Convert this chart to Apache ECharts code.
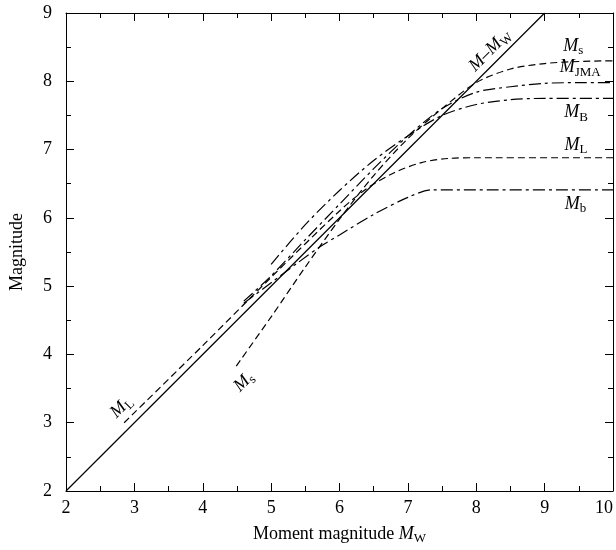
<!DOCTYPE html>
<html>
<head>
<meta charset="utf-8">
<script src="https://cdn.jsdelivr.net/npm/echarts@6/dist/echarts.min.js"></script>
<style>
  html, body { margin: 0; padding: 0; background: #fff; }
  #main { width: 616px; height: 550px; }
</style>
</head>
<body>
<div id="main"></div>
<script>
// axis ranges
const xRange = [2, 10];
const yRange = [2, 9];

// curves, [Mw, M]
const mwLine = [[2, 2], [9, 9]];
const msData = [[4.49, 3.83], [5, 4.55], [5.5, 5.28], [6, 5.98], [6.5, 6.62], [7, 7.16], [7.5, 7.6], [8, 7.98], [8.5, 8.18], [9, 8.26], [9.5, 8.29], [10, 8.3]];
const mjmaData = [[4.6, 4.78], [5, 5.15], [5.5, 5.68], [6, 6.2], [6.5, 6.72], [7, 7.2], [7.5, 7.6], [8, 7.84], [8.5, 7.92], [9, 7.97], [9.5, 7.98], [10, 7.98]];
const mBData = [[5, 5.32], [5.5, 5.9], [6, 6.4], [6.5, 6.84], [7, 7.2], [7.5, 7.5], [8, 7.66], [8.5, 7.73], [9, 7.75], [10, 7.75]];
const mlData = [[2.85, 3.0], [4, 4.13], [5, 5.13], [6, 6.1], [6.4, 6.43], [6.8, 6.66], [7.2, 6.81], [7.6, 6.87], [8, 6.88], [10, 6.88]];
const mbData = [[4.6, 4.75], [5, 5.05], [5.4, 5.35], [5.72, 5.58], [6, 5.75], [6.5, 6.05], [7, 6.3], [7.35, 6.41], [8, 6.41], [10, 6.41]];

// curve labels: [text, x, y, rotation in degrees]
const curveLabels = [
  ['{i|M}{n|–}{i|M}{s|W}', 8.2, 8.45, 45],
  ['{i|M}{s|s}', 9.42, 8.51, 0],
  ['{i|M}{s|JMA}', 9.52, 8.2, 0],
  ['{i|M}{s|B}', 9.46, 7.54, 0],
  ['{i|M}{s|L}', 9.46, 7.06, 0],
  ['{i|M}{s|b}', 9.45, 6.2, 0],
  ['{i|M}{s|L}', 2.81, 3.23, 45],
  ['{i|M}{s|s}', 4.6, 3.6, 45]
];

const FONT = '"Liberation Serif", "DejaVu Serif", serif';
const dashed = [7, 4];
const dashDot = [12, 4, 3, 4];

const richText = {
  i: { fontFamily: FONT, fontStyle: 'italic', fontSize: 18, color: '#000' },
  n: { fontFamily: FONT, fontSize: 18, color: '#000' },
  s: { fontFamily: FONT, fontSize: 13, color: '#000', padding: [9, 0, 0, 0] }
};

const chart = echarts.init(document.getElementById('main'));

function axisCommon(show) {
  return {
    type: 'value',
    axisLine: { show: true, onZero: false, lineStyle: { color: '#000', width: 1 } },
    axisTick: { show: true, inside: true, length: 8, lineStyle: { color: '#000' } },
    minorTick: { show: true, splitNumber: 2, length: 5, lineStyle: { color: '#000' } },
    splitLine: { show: false },
    axisLabel: { show: show, color: '#000', fontFamily: FONT, fontSize: 18 }
  };
}

function line(name, data, type, width) {
  return {
    name: name,
    type: 'line',
    data: data,
    showSymbol: false,
    smooth: 0.3,
    silent: true,
    animation: false,
    lineStyle: { color: '#000', width: width, type: type }
  };
}

const xb = axisCommon(true);
Object.assign(xb, {
  min: xRange[0], max: xRange[1], interval: 1, position: 'bottom',
  name: 'Moment magnitude {i|M}{s|W}', nameLocation: 'middle', nameGap: 32,
  nameTextStyle: { fontFamily: FONT, fontSize: 18, color: '#000', rich: richText }
});
xb.axisLabel.margin = 8;
xb.axisLabel.alignMaxLabel = 'right';
const xt = axisCommon(false);
Object.assign(xt, { min: xRange[0], max: xRange[1], interval: 1, position: 'top' });

const yl = axisCommon(true);
Object.assign(yl, {
  min: yRange[0], max: yRange[1], interval: 1, position: 'left',
  name: 'Magnitude', nameLocation: 'middle', nameGap: 40,
  nameTextStyle: { fontFamily: FONT, fontSize: 18, color: '#000' }
});
yl.axisLabel.margin = 14;
const yr = axisCommon(false);
Object.assign(yr, { min: yRange[0], max: yRange[1], interval: 1, position: 'right' });

chart.setOption({
  animation: false,
  backgroundColor: '#fff',
  grid: { left: 64, right: 2, top: 13, bottom: 54 },
  xAxis: [xb, xt],
  yAxis: [yl, yr],
  series: [
    line('Mw', mwLine, 'solid', 1.2),
    line('Ms', msData, dashed, 1.2),
    line('MJMA', mjmaData, dashDot, 1.2),
    line('MB', mBData, dashDot, 1.2),
    line('ML', mlData, dashed, 1.2),
    line('Mb', mbData, dashDot, 1.2)
  ]
});

const graphics = curveLabels.map(function (l) {
  const p = chart.convertToPixel({ gridIndex: 0 }, [l[1], l[2]]);
  return {
    type: 'text',
    x: p[0],
    y: p[1],
    rotation: l[3] * Math.PI / 180,
    silent: true,
    style: {
      text: l[0],
      rich: richText,
      align: 'center',
      verticalAlign: 'middle'
    }
  };
});
chart.setOption({ graphic: graphics });
</script>
</body>
</html>
